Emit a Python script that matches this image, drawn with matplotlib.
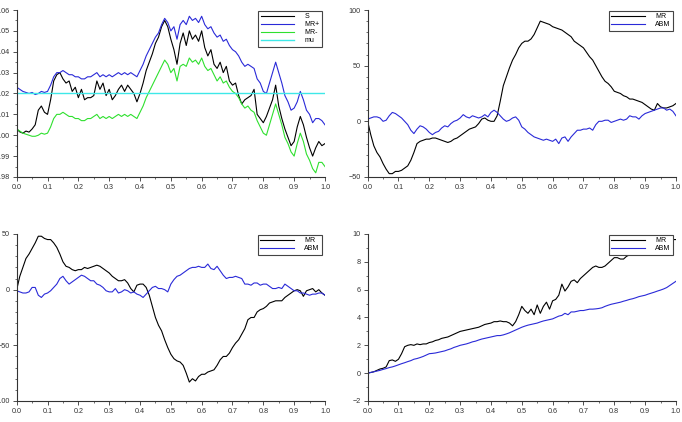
import numpy as np
import matplotlib.pyplot as plt
from matplotlib.ticker import MultipleLocator

t = np.linspace(0, 1, 101)

# top-left: price path and bands
S = [1.003, 1.0016, 1.001, 1.002, 1.0015, 1.003, 1.005, 1.012, 1.014, 1.011,
     1.010, 1.017, 1.026, 1.029, 1.030, 1.027, 1.025, 1.026, 1.021, 1.023,
     1.018, 1.022, 1.017, 1.018, 1.018, 1.019, 1.026, 1.022, 1.025, 1.019,
     1.022, 1.017, 1.019, 1.022, 1.024, 1.021, 1.024, 1.022, 1.020, 1.016,
     1.020, 1.025, 1.031, 1.035, 1.039, 1.044, 1.047, 1.052, 1.055, 1.052,
     1.046, 1.041, 1.034, 1.044, 1.049, 1.043, 1.050, 1.046, 1.048, 1.045,
     1.050, 1.042, 1.038, 1.041, 1.034, 1.032, 1.035, 1.030, 1.033, 1.026,
     1.024, 1.025, 1.019, 1.015, 1.017, 1.018, 1.019, 1.022, 1.010, 1.008,
     1.006, 1.009, 1.013, 1.017, 1.024, 1.014, 1.008, 1.003, 0.999, 0.995,
     0.997, 1.004, 1.009, 1.005, 0.999, 0.994, 0.990, 0.994, 0.997, 0.995,
     0.996]
MR_plus = [1.023, 1.022, 1.021, 1.0205, 1.020, 1.0205, 1.0195, 1.020, 1.021, 1.0205,
           1.021, 1.024, 1.028, 1.030, 1.030, 1.031, 1.030, 1.029, 1.029, 1.028,
           1.028, 1.027, 1.027, 1.028, 1.028, 1.029, 1.030, 1.028, 1.029, 1.028,
           1.029, 1.028, 1.029, 1.030, 1.029, 1.030, 1.029, 1.030, 1.029, 1.028,
           1.031, 1.034, 1.038, 1.041, 1.044, 1.047, 1.049, 1.053, 1.056, 1.054,
           1.050, 1.052, 1.046, 1.053, 1.055, 1.053, 1.057, 1.055, 1.056, 1.054,
           1.057, 1.053, 1.051, 1.052, 1.049, 1.047, 1.048, 1.045, 1.046, 1.043,
           1.041, 1.040, 1.038, 1.035, 1.033, 1.034, 1.033, 1.032, 1.027, 1.025,
           1.021, 1.020, 1.025, 1.030, 1.035, 1.030, 1.025, 1.019, 1.016, 1.012,
           1.013, 1.016, 1.021, 1.017, 1.012, 1.010, 1.006, 1.008, 1.008, 1.007,
           1.005]
MR_minus = [1.003, 1.002, 1.001, 1.0005, 1.000, 0.9995, 0.9995, 1.000, 1.001, 1.0005,
            1.001, 1.004, 1.008, 1.010, 1.010, 1.011, 1.010, 1.009, 1.009, 1.008,
            1.008, 1.007, 1.007, 1.008, 1.008, 1.009, 1.010, 1.008, 1.009, 1.008,
            1.009, 1.008, 1.009, 1.010, 1.009, 1.010, 1.009, 1.010, 1.009, 1.008,
            1.011, 1.014, 1.018, 1.021, 1.024, 1.027, 1.030, 1.033, 1.036, 1.034,
            1.030, 1.032, 1.026, 1.033, 1.034, 1.033, 1.037, 1.035, 1.036, 1.034,
            1.037, 1.033, 1.031, 1.032, 1.029, 1.026, 1.028, 1.025, 1.026, 1.023,
            1.021, 1.020, 1.018, 1.015, 1.013, 1.014, 1.012, 1.011, 1.007, 1.004,
            1.001, 1.000, 1.005, 1.010, 1.015, 1.010, 1.005, 0.999, 0.996, 0.992,
            0.990, 0.996, 1.001, 0.997, 0.991, 0.988, 0.984, 0.982, 0.987, 0.987,
            0.985]
mu = 1.02

# top-right
MR_tr = [0, -12, -22, -28, -32, -38, -43, -47, -47, -45,
         -45, -44, -42, -40, -35, -28, -20, -18, -17, -16,
         -16, -15, -15, -16, -17, -18, -19, -18, -16, -15,
         -13, -11, -9, -7, -6, -5, -2, 2, 3, 1,
         0, 0, 5, 18, 32, 40, 48, 55, 60, 66,
         70, 72, 72, 74, 78, 84, 90, 89, 88, 87,
         85, 84, 83, 82, 80, 78, 76, 72, 70, 68,
         66, 62, 58, 55, 50, 45, 40, 36, 34, 31,
         27, 26, 25, 23, 22, 20, 20, 19, 18, 17,
         15, 13, 11, 10, 16, 13, 12, 12, 13, 14,
         16]
ABM_tr = [2, 3, 4, 4, 3, 0, 1, 5, 8, 7,
          5, 3, 0, -3, -8, -11, -7, -4, -5, -7,
          -10, -12, -10, -9, -6, -4, -5, -2, 0, 1,
          3, 6, 4, 3, 5, 4, 3, 4, 6, 4,
          8, 10, 8, 5, 2, 0, 1, 3, 4, 1,
          -5, -7, -10, -12, -14, -15, -16, -17, -16, -17,
          -18, -16, -20, -15, -14, -18, -14, -11, -8, -8,
          -7, -7, -6, -8, -3, 0, 0, 1, 1, -1,
          0, 1, 2, 1, 2, 5, 4, 4, 2, 5,
          7, 8, 9, 10, 11, 12, 12, 10, 11, 9,
          5]

# bottom-left
MR_bl = [0, 12, 20, 28, 32, 37, 42, 48, 48, 46,
         45, 45, 42, 38, 32, 25, 21, 20, 18, 17,
         18, 18, 20, 19, 20, 21, 22, 21, 19, 17,
         15, 12, 10, 8, 8, 9, 6, 1, -2, 4,
         5, 5, 2, -5, -15, -25, -32, -37, -45, -52,
         -58, -62, -64, -65, -68, -75, -83, -80, -82, -78,
         -76, -76, -74, -73, -72, -68, -63, -60, -60, -57,
         -52, -48, -45, -40, -35, -27, -25, -25, -20, -18,
         -17, -15, -12, -11, -10, -10, -10, -7, -5, -3,
         -1, 0, -1, -6, -1, 0, 1, -2, 0, -3,
         -5]
ABM_bl = [-1, -2, -3, -3, -2, 2, 2, -5, -7, -4,
          -3, -1, 2, 5, 10, 12, 8, 5, 7, 9,
          11, 13, 12, 10, 8, 8, 5, 4, 2, -1,
          -2, -2, 1, -3, -2, 0, -1, -3, -2, -4,
          -5, -7, -4, -1, 2, 3, 1, 1, 0, -2,
          5, 9, 12, 13, 15, 17, 19, 20, 20, 21,
          20, 20, 23, 19, 18, 21, 17, 13, 10, 11,
          11, 12, 11, 10, 5, 5, 4, 6, 6, 4,
          5, 5, 3, 1, 1, 2, 1, 5, 3, 1,
          -1, -1, -3, -3, -4, -5, -4, -4, -3, -3,
          -5]

# bottom-right
MR_br = [0, 0.05, 0.1, 0.2, 0.3, 0.35, 0.45, 0.9, 0.95, 0.85,
         1.0, 1.4, 1.9, 2.0, 2.05, 2.0, 2.1, 2.05, 2.1, 2.1,
         2.2, 2.25, 2.35, 2.4, 2.5, 2.55, 2.6, 2.7, 2.8, 2.9,
         3.0, 3.05, 3.1, 3.15, 3.2, 3.25, 3.3, 3.4, 3.5, 3.55,
         3.6, 3.7, 3.7, 3.75, 3.7, 3.7, 3.6, 3.4, 3.7, 4.2,
         4.8, 4.5, 4.3, 4.6, 4.2, 4.9, 4.3, 4.8, 5.1, 4.6,
         5.2, 5.3, 5.6, 6.4, 5.9, 6.2, 6.6, 6.7, 6.5, 6.8,
         7.0, 7.2, 7.4, 7.6, 7.7, 7.6, 7.6, 7.7, 7.9, 8.1,
         8.3, 8.3, 8.2, 8.2, 8.4, 8.5, 8.7, 8.8, 8.9, 9.0,
         9.1, 9.2, 9.3, 9.3, 9.4, 9.5, 9.4, 9.5, 9.5, 9.6,
         9.6]
ABM_br = [0, 0.05, 0.1, 0.15, 0.2, 0.27, 0.33, 0.4, 0.45, 0.52,
          0.6, 0.68, 0.75, 0.83, 0.9, 1.0, 1.05, 1.12, 1.2, 1.3,
          1.4, 1.42, 1.45, 1.5, 1.55, 1.6, 1.68, 1.75, 1.85, 1.92,
          2.0, 2.05, 2.1, 2.17, 2.25, 2.3, 2.38, 2.45, 2.5, 2.55,
          2.6, 2.65, 2.7, 2.7, 2.75, 2.82, 2.9, 3.0, 3.1, 3.2,
          3.3, 3.38, 3.45, 3.5, 3.55, 3.6, 3.68, 3.75, 3.8, 3.85,
          3.9, 4.0, 4.1, 4.15, 4.3, 4.2, 4.4, 4.4, 4.45, 4.5,
          4.5, 4.55, 4.6, 4.6, 4.62, 4.65, 4.7, 4.8, 4.88, 4.95,
          5.0, 5.05, 5.1, 5.17, 5.23, 5.3, 5.35, 5.42, 5.5, 5.55,
          5.6, 5.68, 5.75, 5.82, 5.9, 5.97, 6.05, 6.15, 6.3, 6.45,
          6.6]

BLUE = '#2a2ad8'
GREEN = '#2fe02f'
CYAN = '#3ee8e8'

plt.rcParams['font.family'] = ['Liberation Sans', 'DejaVu Sans']

fig = plt.figure(figsize=(6.82, 4.22), dpi=100)
w, h = 0.452, 0.3957
ax1 = fig.add_axes([0.0245, 0.5806, w, h])
ax2 = fig.add_axes([0.5391, 0.5806, w, h])
ax3 = fig.add_axes([0.0245, 0.0498, w, h])
ax4 = fig.add_axes([0.5391, 0.0498, w, h])


def style(ax, ylim, major, minor):
    ax.set_xlim(0, 1)
    ax.set_ylim(*ylim)
    ax.xaxis.set_major_locator(MultipleLocator(0.1))
    ax.xaxis.set_minor_locator(MultipleLocator(0.05))
    ax.yaxis.set_major_locator(MultipleLocator(major))
    ax.yaxis.set_minor_locator(MultipleLocator(minor))
    for s in ['top', 'right']:
        ax.spines[s].set_visible(False)
    for s in ['left', 'bottom']:
        ax.spines[s].set_linewidth(0.8)
        ax.spines[s].set_color('#333333')
    ax.tick_params(which='major', direction='out', length=3, width=0.6,
                   labelsize=5.2, pad=2, colors='#333333')
    ax.tick_params(which='minor', direction='out', length=1.6, width=0.5,
                   colors='#333333')
    ax.xaxis.set_major_formatter(plt.FormatStrFormatter('%.1f'))


def add_legend(ax):
    leg = ax.legend(loc='upper right', bbox_to_anchor=(0.99, 0.995),
                    fontsize=5, handlelength=4.8, handletextpad=1.5,
                    borderpad=0.35, labelspacing=0.15, fancybox=False,
                    framealpha=1, edgecolor='#444444', borderaxespad=0)
    leg.get_frame().set_linewidth(0.8)


lw = 0.8
ax1.plot(t, S, color='black', lw=lw, label='S')
ax1.plot(t, MR_plus, color=BLUE, lw=lw, label='MR+')
ax1.plot(t, MR_minus, color=GREEN, lw=lw, label='MR-')
ax1.plot([0, 1], [mu, mu], color=CYAN, lw=1.0, label='mu')
style(ax1, (0.98, 1.06), 0.01, 0.005)
ax1.yaxis.set_major_formatter(plt.FormatStrFormatter('%.2f'))
add_legend(ax1)

ax2.plot(t, MR_tr, color='black', lw=lw, label='MR')
ax2.plot(t, ABM_tr, color=BLUE, lw=lw, label='ABM')
style(ax2, (-50, 100), 50, 10)
add_legend(ax2)

ax3.plot(t, MR_bl, color='black', lw=lw, label='MR')
ax3.plot(t, ABM_bl, color=BLUE, lw=lw, label='ABM')
style(ax3, (-100, 50), 50, 10)
add_legend(ax3)

ax4.plot(t, MR_br, color='black', lw=lw, label='MR')
ax4.plot(t, ABM_br, color=BLUE, lw=lw, label='ABM')
style(ax4, (-2, 10), 2, 1)
add_legend(ax4)

fig.savefig('out.png', dpi=100)
